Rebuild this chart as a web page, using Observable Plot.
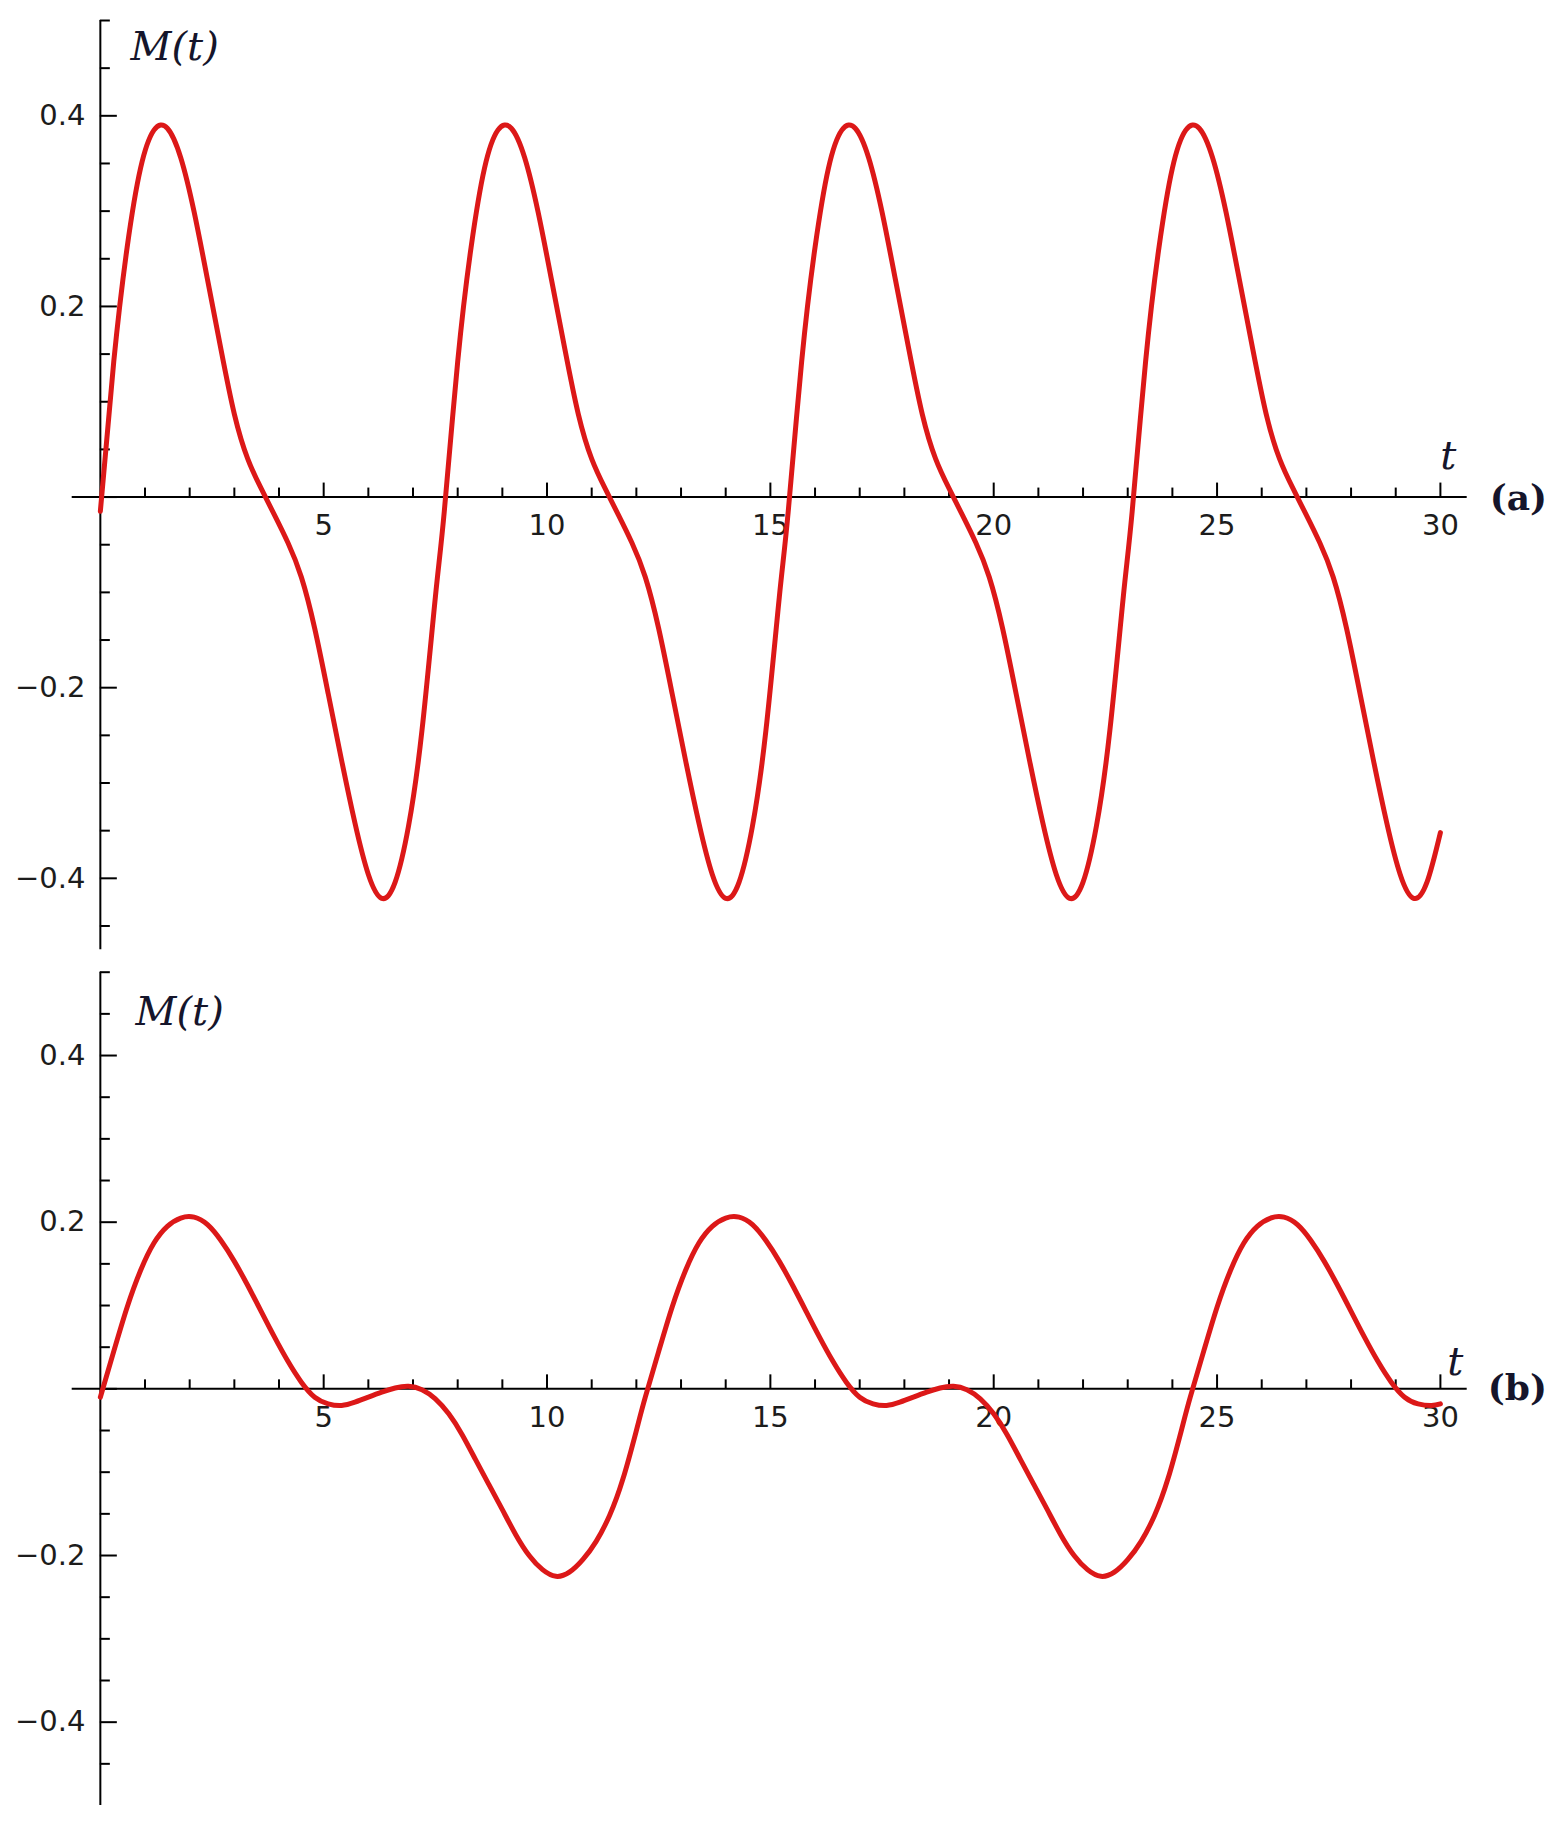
<!DOCTYPE html>
<html><head><meta charset="utf-8">
<script src="https://cdn.jsdelivr.net/npm/d3@7"></script>
<script src="https://cdn.jsdelivr.net/npm/@observablehq/plot@0.6"></script>
<style>
html,body{margin:0;padding:0;background:#fff;}
#wrap{position:relative;width:1568px;height:1831px;overflow:hidden;background:#fff;}
.panel{position:absolute;left:0;}
</style></head><body><div id="wrap"></div>
<script>
// ---- Panel (a) data: t and M(t) ----
const tA = [
  0,0.3,0.6,0.9,1.2,1.5,1.8,2.1,2.4,2.7,3.0,3.3,3.6,3.9,4.2,4.5,4.8,5.1,5.4,5.7,6.0,6.3,6.6,6.9,7.2,7.5,
  7.7,8.0,8.3,8.6,8.9,9.2,9.5,9.8,10.1,10.4,10.7,11.0,11.3,11.6,11.9,12.2,12.5,12.8,13.1,13.4,13.7,14.0,14.3,14.6,14.9,15.2,
  15.4,15.7,16.0,16.3,16.6,16.9,17.2,17.5,17.8,18.1,18.4,18.7,19.0,19.3,19.6,19.9,20.2,20.5,20.8,21.1,21.4,21.7,22.0,22.3,22.6,22.9,
  23.1,23.4,23.7,24.0,24.3,24.6,24.9,25.2,25.5,25.8,26.1,26.4,26.7,27.0,27.3,27.6,27.9,28.2,28.5,28.8,29.1,29.4,29.7,30.0
];
const mA = [
  -0.015,0.142,0.262,0.345,0.385,0.387,0.356,0.299,0.228,0.155,0.087,0.040,0.009,-0.019,-0.048,-0.084,-0.138,-0.206,-0.276,-0.342,-0.396,-0.421,-0.404,-0.345,-0.245,-0.105,
  -0.015,0.142,0.262,0.345,0.385,0.387,0.356,0.299,0.228,0.155,0.087,0.040,0.009,-0.019,-0.048,-0.084,-0.138,-0.206,-0.276,-0.342,-0.396,-0.421,-0.404,-0.345,-0.245,-0.105,
  -0.015,0.142,0.262,0.345,0.385,0.387,0.356,0.299,0.228,0.155,0.087,0.040,0.009,-0.019,-0.048,-0.084,-0.138,-0.206,-0.276,-0.342,-0.396,-0.421,-0.404,-0.345,-0.245,-0.105,
  -0.015,0.142,0.262,0.345,0.385,0.387,0.356,0.299,0.228,0.155,0.087,0.040,0.009,-0.019,-0.048,-0.084,-0.138,-0.206,-0.276,-0.342,-0.396,-0.421,-0.404,-0.352
];
// ---- Panel (b) data ----
const tB = [
  0,0.3,0.6,0.9,1.2,1.5,1.8,2.1,2.4,2.7,3.0,3.3,3.6,3.9,4.2,4.5,4.8,5.1,5.4,5.7,6.0,6.3,6.6,6.9,7.2,7.5,7.8,8.1,8.4,8.7,9.0,9.3,9.6,9.9,10.2,10.5,10.8,11.1,11.4,11.7,12.0,
  12.2,12.5,12.8,13.1,13.4,13.7,14.0,14.3,14.6,14.9,15.2,15.5,15.8,16.1,16.4,16.7,17.0,17.3,17.6,17.9,18.2,18.5,18.8,19.1,19.4,19.7,20.0,20.3,20.6,20.9,21.2,21.5,21.8,22.1,22.4,22.7,23.0,23.3,23.6,23.9,24.2,
  24.4,24.7,25.0,25.3,25.6,25.9,26.2,26.5,26.8,27.1,27.4,27.7,28.0,28.3,28.6,28.9,29.2,29.5,29.8,30.0
];
const mB = [
  -0.01,0.045,0.098,0.142,0.175,0.195,0.205,0.206,0.197,0.178,0.153,0.124,0.093,0.062,0.033,0.008,-0.01,-0.018,-0.02,-0.016,-0.01,-0.004,0.001,0.003,-0.001,-0.012,-0.03,-0.055,-0.085,-0.115,-0.145,-0.175,-0.2,-0.217,-0.225,-0.22,-0.205,-0.183,-0.152,-0.108,-0.05,
  -0.01,0.045,0.098,0.142,0.175,0.195,0.205,0.206,0.197,0.178,0.153,0.124,0.093,0.062,0.033,0.008,-0.01,-0.018,-0.02,-0.016,-0.01,-0.004,0.001,0.003,-0.001,-0.012,-0.03,-0.055,-0.085,-0.115,-0.145,-0.175,-0.2,-0.217,-0.225,-0.22,-0.205,-0.183,-0.152,-0.108,-0.05,
  -0.01,0.045,0.098,0.142,0.175,0.195,0.205,0.206,0.197,0.178,0.153,0.124,0.093,0.062,0.033,0.008,-0.01,-0.018,-0.02,-0.018
];
// ---- Tick labels ----
const xTickLabels = [5, 10, 15, 20, 25, 30];
const yTickLabels = [-0.4, -0.2, 0.2, 0.4];
const xTicks = d3.range(1, 31);
const yTicks = d3.range(-9, 11).map(k => Math.round(k * 5) / 100);

const W = 1568, ML = 71.7, MR = 101.3;
const xDomain = [-0.63, 30.6];
const pxu = (W - ML - MR) / (xDomain[1] - xDomain[0]);
const numFont = "DejaVu Sans";
const ink = "#1c1c1c";

function panel({t, m, yDomain, top, height, marginTop, marginBottom, tDx, tDy, tag, tagDx, tagDy, mDx, mDy}) {
  const pyu = (height - marginTop - marginBottom) / (yDomain[1] - yDomain[0]);
  const isMajorX = d => d % 5 === 0;
  const isMajorY = d => Math.abs(d * 5 - Math.round(d * 5)) < 1e-6;
  const data = t.map((d, i) => ({t: d, m: m[i]}));
  const fmt = d => d < 0 ? "\u2212" + Math.abs(d) : String(d);
  const svg = Plot.plot({
    width: W, height, marginLeft: ML, marginRight: MR, marginTop, marginBottom,
    style: {background: "transparent", overflow: "visible"},
    x: {domain: xDomain, axis: null},
    y: {domain: yDomain, axis: null},
    marks: [
      Plot.ruleY([0], {stroke: "#000", strokeWidth: 2}),
      Plot.ruleX([0], {stroke: "#000", strokeWidth: 2}),
      Plot.ruleX(xTicks, {x: d => d, y1: 0, y2: d => (isMajorX(d) ? 14 : 9) / pyu, stroke: "#000", strokeWidth: 2}),
      Plot.ruleY(yTicks, {y: d => d, x1: 0, x2: d => (isMajorY(d) ? 17 : 10) / pxu, stroke: "#000", strokeWidth: 2}),
      Plot.text(xTickLabels, {x: d => d, y: 0, text: d => String(d), dy: 29, fontSize: 29, fontFamily: numFont, fill: ink, lineAnchor: "middle"}),
      Plot.text(yTickLabels, {x: 0, y: d => d, text: fmt, dx: -15, textAnchor: "end", fontSize: 29, fontFamily: numFont, fill: ink, lineAnchor: "middle"}),
      Plot.text(["M(t)"], {frameAnchor: "top-left", dx: mDx, dy: mDy, textAnchor: "start", lineAnchor: "middle", fontSize: 40, fontStyle: "italic", fontFamily: "DejaVu Serif", fill: "#15152b"}),
      Plot.text(["t"], {x: 30, y: 0, dx: tDx, dy: tDy, fontSize: 40, fontStyle: "italic", fontFamily: "DejaVu Serif", fill: "#15152b", lineAnchor: "middle"}),
      Plot.text([tag], {x: 30, y: 0, dx: tagDx, dy: tagDy, fontSize: 36, fontWeight: "bold", fontFamily: "DejaVu Serif", fill: "#15152b", lineAnchor: "middle"}),
      Plot.line(data, {x: "t", y: "m", curve: "natural", stroke: "#dc1818", strokeWidth: 5})
    ]
  });
  const div = document.createElement("div");
  div.className = "panel";
  div.style.top = top + "px";
  div.appendChild(svg);
  document.getElementById("wrap").appendChild(div);
}

panel({t: tA, m: mA, yDomain: [-0.475, 0.5], top: 0, height: 955, marginTop: 20, marginBottom: 5.7,
       tDx: 8, tDy: -41, tag: "(a)", tagDx: 78, tagDy: 1, mDx: 130 - ML, mDy: 27});
panel({t: tB, m: mB, yDomain: [-0.5, 0.5], top: 955, height: 865, marginTop: 16.7, marginBottom: 15,
       tDx: 15, tDy: -27, tag: "(b)", tagDx: 77, tagDy: 0, mDx: 135 - ML, mDy: 1011.7 - 971.7});
</script></body></html>
